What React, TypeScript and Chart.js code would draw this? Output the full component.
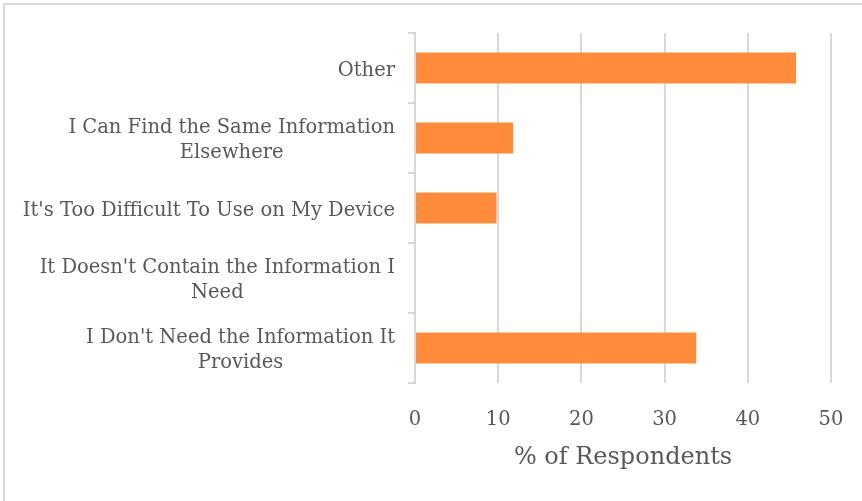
import React, { useEffect, useRef } from "react";
import { Chart, registerables } from "chart.js";

Chart.register(...registerables);

const categories: (string | string[])[] = [
  "Other",
  ["I Can Find the Same Information", "Elsewhere"],
  "It's Too Difficult To Use on My Device",
  ["It Doesn't Contain the Information I", "Need"],
  ["I Don't Need the Information It", "Provides"],
];
const values: number[] = [45.8, 11.8, 9.8, 0, 33.8];
const xTicks = { min: 0, max: 50, step: 10 };
const xTitle = "% of Respondents";

const FONT = "'DejaVu Serif', serif";
const TEXT = "#595959";
const GRID = "#d9d9d9";
const LABEL_SIZE = 19.5;
const LABEL_LINE = 25;

const blockLabels = {
  id: "blockLabels",
  afterDraw(chart: any) {
    const ctx = chart.ctx;
    const y = chart.scales.y;
    ctx.save();
    ctx.font = `${LABEL_SIZE}px ${FONT}`;
    ctx.fillStyle = TEXT;
    ctx.textAlign = "center";
    ctx.textBaseline = "middle";
    const right = y.right - 7 - 13;
    categories.forEach((lab, i) => {
      const lines = Array.isArray(lab) ? lab : [lab];
      const w = Math.max(...lines.map((l) => ctx.measureText(l).width));
      const cx = right - w / 2;
      const cy = y.getPixelForValue(i) + 2.5;
      const start = cy - ((lines.length - 1) * LABEL_LINE) / 2;
      lines.forEach((l, k) => ctx.fillText(l, cx, start + k * LABEL_LINE));
    });
    ctx.restore();
  },
};

export default function App() {
  const ref = useRef<HTMLCanvasElement | null>(null);
  useEffect(() => {
    document.body.style.margin = "0";
    document.body.style.overflow = "hidden";
    const chart = new Chart(ref.current!, {
      type: "bar",
      data: {
        labels: categories,
        datasets: [
          {
            data: values,
            backgroundColor: "#ff8b3b",
            borderWidth: 0,
            categoryPercentage: 1,
            barPercentage: 0.44,
          },
        ],
      },
      options: {
        indexAxis: "y",
        animation: false,
        responsive: false,
        devicePixelRatio: 1,
        layout: { padding: { left: 0, top: 33, right: 31, bottom: 0 } },
        plugins: { legend: { display: false }, tooltip: { enabled: false } },
        scales: {
          x: {
            min: xTicks.min,
            max: xTicks.max,
            afterFit: (scale: any) => {
              scale.height = 118;
              scale.paddingLeft = 0;
              scale.paddingRight = 0;
            },
            ticks: {
              stepSize: xTicks.step,
              color: TEXT,
              font: { family: FONT, size: 19.5 },
              padding: 25,
            },
            grid: { color: GRID, lineWidth: 2, drawTicks: false },
            border: { display: false },
            title: {
              display: true,
              text: xTitle,
              color: TEXT,
              font: { family: FONT, size: 24 },
              padding: { top: 0, bottom: 29 },
            },
          },
          y: {
            afterFit: (scale: any) => {
              scale.width = 415;
            },
            ticks: { display: false },
            grid: {
              display: true,
              drawOnChartArea: false,
              drawTicks: true,
              tickLength: 7,
              color: GRID,
              lineWidth: 2,
            },
            border: { display: true, color: GRID, width: 2 },
          },
        },
      },
      plugins: [blockLabels],
    });
    return () => chart.destroy();
  }, []);
  return (
    <div style={{ position: "relative", width: 862, height: 501, background: "#fff", overflow: "hidden" }}>
      <div
        style={{
          position: "absolute",
          left: 3,
          top: 3,
          right: 0,
          bottom: 0,
          borderLeft: "2px solid #d9d9d9",
          borderTop: "2px solid #d9d9d9",
          pointerEvents: "none",
        }}
      />
      <canvas ref={ref} width={862} height={501} style={{ display: "block", width: 862, height: 501 }} />
    </div>
  );
}
